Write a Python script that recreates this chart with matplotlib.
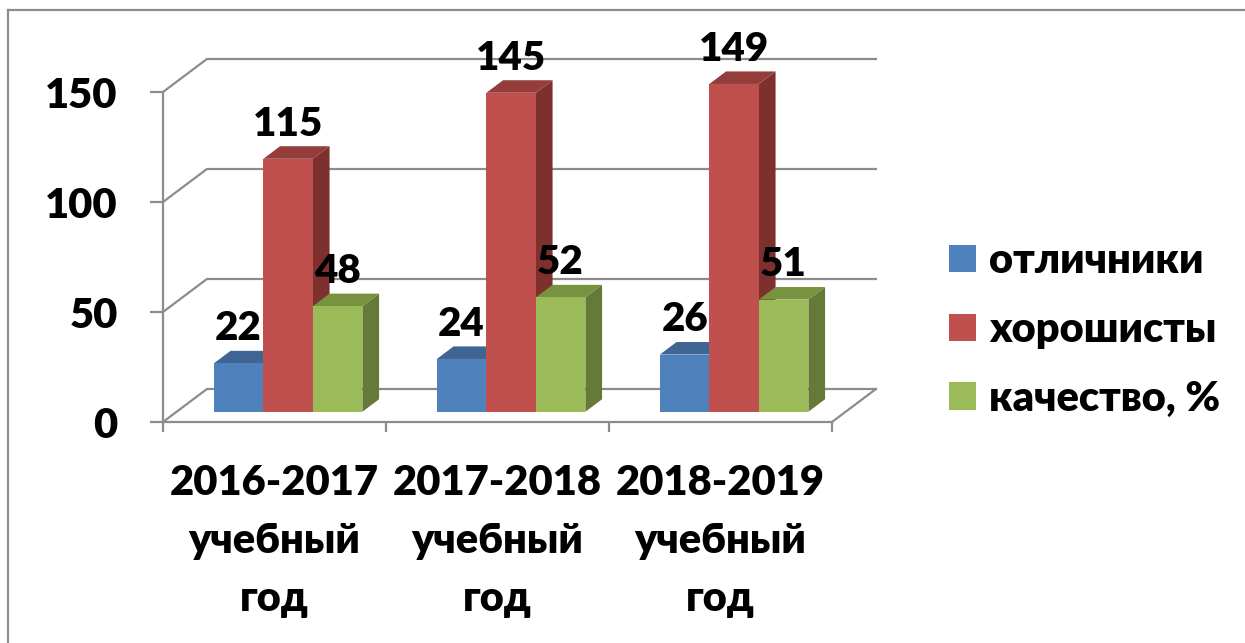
import numpy as np
import matplotlib.pyplot as plt
from matplotlib.patches import Polygon
from matplotlib.lines import Line2D

# data
years = ['2016-2017\nучебный\nгод', '2017-2018\nучебный\nгод', '2018-2019\nучебный\nгод']
otlichniki = [22, 24, 26]
horoshisty = [115, 145, 149]
kachestvo = [48, 52, 51]
names = ['отличники', 'хорошисты', 'качество, %']

series = [otlichniki, horoshisty, kachestvo]
front = ['#4F81BD', '#C0504D', '#9BBB59']
top = ['#3E6594', '#953D3B', '#78933F']
side = ['#365A88', '#7E302E', '#657A38']

plt.rcParams['font.family'] = ['Lato', 'Open Sans', 'DejaVu Sans']
plt.rcParams['font.weight'] = 'heavy'
wt = 'heavy'

fig = plt.figure(figsize=(12.45, 6.43), dpi=100)
ax = fig.add_axes([163/1245, 1-422/643, 669/1245, 330/643])
ax.set_xlim(0, 3)
ax.set_ylim(0, 150)

grid = '#8c8c8c'
dx, dy = 0.197, 15      # depth of the "3d" box in data units
f0, f1 = 0.31, 0.69     # front / back of bars as part of the depth
w = 0.222

# back wall gridlines + side wall diagonals
for v in [0, 50, 100, 150]:
    ax.plot([0, dx, 3+dx], [v, v+dy, v+dy], color=grid, lw=1.6, clip_on=False, zorder=1)
ax.plot([3, 3+dx], [0, dy], color=grid, lw=1.6, clip_on=False, zorder=1)

# bars
z = 2
for i in range(3):
    for j in range(3):
        v = series[j][i]
        x0 = i + 0.5 + (j-1.5)*w + f0*dx
        y0 = f0*dy
        ddx = (f1-f0)*dx
        ddy = (f1-f0)*dy
        ax.add_patch(Polygon([(x0+w, y0), (x0+w+ddx, y0+ddy), (x0+w+ddx, y0+v+ddy), (x0+w, y0+v)],
                             closed=True, fc=side[j], ec='none', clip_on=False, zorder=z))
        ax.add_patch(Polygon([(x0, y0+v), (x0+ddx, y0+v+ddy), (x0+w+ddx, y0+v+ddy), (x0+w, y0+v)],
                             closed=True, fc=top[j], ec='none', clip_on=False, zorder=z))
        ax.bar(x0, v, width=w, bottom=y0, align='edge', color=front[j], clip_on=False, zorder=z,
               label=names[j] if i == 0 else None)
        z += 1
        ax.text(x0 + w/2, y0 + v + 10.5, str(v), ha='center', va='baseline',
                fontsize=29, fontweight=wt, zorder=50)

# axes styling
for s in ['top', 'right']:
    ax.spines[s].set_visible(False)
for s in ['left', 'bottom']:
    ax.spines[s].set_color(grid)
    ax.spines[s].set_linewidth(1.6)
ax.set_yticks([0, 50, 100, 150])
ax.tick_params(axis='y', direction='out', length=9.5, width=1.6, color=grid, pad=23, labelsize=30)
ax.set_xticks([0, 1, 2, 3])
ax.set_xticklabels([])
ax.tick_params(axis='x', which='major', direction='out', length=7.5, width=1.6, color=grid)
ax.set_xticks([0.5, 1.5, 2.5], minor=True)
ax.set_xticklabels(years, minor=True, fontsize=30, fontweight=wt, linespacing=1.65)
ax.tick_params(axis='x', which='minor', length=0, pad=30)
ax.patch.set_alpha(0)

ax.legend(loc='center left', bbox_to_anchor=(949/1245, 1-330/643), bbox_transform=fig.transFigure,
          frameon=False, fontsize=30, handlelength=0.64, handleheight=0.64,
          handletextpad=0.33, labelspacing=0.74, borderpad=0, borderaxespad=0)

# outer frame
fig.add_artist(Line2D([8/1245, 8/1245], [0, 1-10/643], color=grid, lw=1.6))
fig.add_artist(Line2D([8/1245, 1], [1-10/643, 1-10/643], color=grid, lw=1.6))

fig.savefig('out.png', dpi=100)
